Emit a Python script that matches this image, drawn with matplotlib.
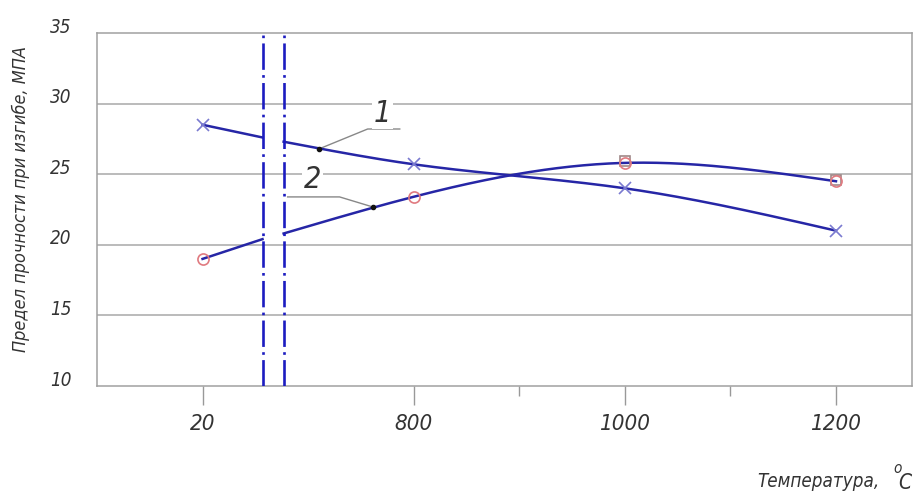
import matplotlib; matplotlib.use("Agg")
import matplotlib.pyplot as plt, numpy as np

# strength vs temperature, two materials; x axis is broken between 20 and 800
temps = ["20", "800", "1000", "1200"]
strength_1 = [28.5, 25.7, 24.0, 21.0]
strength_2 = [19.0, 23.4, 25.8, 24.5]
strength_sq = [25.9, 24.6]          # extra square marks at 1000, 1200 (curve 2)
break_1 = [27.6, 27.3]              # curve 1 value at both edges of the break
break_2 = [20.4, 20.8]              # curve 2 value at both edges of the break
y_ticks = [10, 15, 20, 25, 30, 35]

TXT = dict(family="DejaVu Sans", stretch="condensed", style="italic", color="#333")
BLUE = "#2626a6"
xb0, xb1 = 0.284, 0.384             # break position between tick 0 and tick 1

def nat_spline(xk, yk, n=300):
    xk = np.asarray(xk, float); yk = np.asarray(yk, float)
    k = len(xk); h = np.diff(xk)
    A = np.zeros((k, k)); r = np.zeros(k)
    A[0, 0] = A[-1, -1] = 1
    for i in range(1, k-1):
        A[i, i-1] = h[i-1]; A[i, i] = 2*(h[i-1]+h[i]); A[i, i+1] = h[i]
        r[i] = 6*((yk[i+1]-yk[i])/h[i] - (yk[i]-yk[i-1])/h[i-1])
    m = np.linalg.solve(A, r)
    xs = np.linspace(xk[0], xk[-1], n); ys = np.empty_like(xs)
    for j, x in enumerate(xs):
        i = min(np.searchsorted(xk, x, side="right")-1, k-2)
        t0 = xk[i+1]-x; t1 = x-xk[i]
        ys[j] = (m[i]*t0**3 + m[i+1]*t1**3)/(6*h[i]) + (yk[i]/h[i]-m[i]*h[i]/6)*t0 + (yk[i+1]/h[i]-m[i+1]*h[i]/6)*t1
    return xs, ys

x = np.arange(len(temps))
fig = plt.figure(figsize=(9.14, 4.96), dpi=100)
ax = fig.add_axes([0.1061, 0.2218, 0.8917, 0.7117])
ax.set_xlim(-0.5, 3.36); ax.set_ylim(10, 35)

for v in y_ticks[1:-1]:
    ax.axhline(v, color="#a8a8a8", linewidth=1.1, zorder=1)

for s, b in ((strength_1, break_1), (strength_2, break_2)):
    ax.plot([x[0], xb0], [s[0], b[0]], color=BLUE, linewidth=1.8, zorder=3)
    xs, ys = nat_spline([xb1] + list(x[1:]), [b[1]] + s[1:])
    ax.plot(xs, ys, color=BLUE, linewidth=1.8, zorder=3)

for xv in (xb0, xb1):
    ax.axvline(xv, color="#1c1cc0", linewidth=1.9, linestyle=(0, (10, 2, 1, 2)), zorder=4)

ax.plot(x, strength_1, "x", color="#7a7ad0", markersize=9, markeredgewidth=1.2, zorder=5)
ax.plot(x[2:], strength_sq, "s", color="#a08888", markersize=7, markerfacecolor="none", markeredgewidth=1.2, zorder=5)
ax.plot(x, strength_2, "o", color="#e07a80", markersize=8, markerfacecolor="none", markeredgewidth=1.2, zorder=6)

# callouts 1 and 2
ax.plot([0.550, 0.782, 0.934], [26.78, 28.2, 28.2], color="#888", linewidth=1.0, zorder=2)
ax.plot([0.806, 0.649, 0.403], [22.68, 23.39, 23.39], color="#888", linewidth=1.0, zorder=2)
ax.plot([0.550, 0.806], [26.78, 22.68], "o", color="#111", markersize=3, zorder=6)
ax.text(0.853, 29.33, "1", fontsize=22, ha="center", va="center",
        bbox=dict(facecolor="white", edgecolor="none", pad=1), zorder=2, **TXT)
ax.text(0.521, 24.6, "2", fontsize=22, ha="center", va="center",
        bbox=dict(facecolor="white", edgecolor="none", pad=1), zorder=2, **TXT)

ax.set_xticks(x); ax.set_xticklabels(temps)
ax.set_xticks([1.5, 2.5], minor=True)
ax.tick_params(axis="x", which="major", length=14, width=1, color="#999", pad=6, labelsize=16)
ax.tick_params(axis="x", which="minor", length=7, width=1, color="#999")
for lb in ax.get_xticklabels():
    lb.set_family("DejaVu Sans"); lb.set_stretch("condensed"); lb.set_style("italic"); lb.set_color("#333")
ax.set_yticks([])
for v in y_ticks:
    ax.text(-0.62, v + 0.42, str(v), fontsize=13.5, ha="right", va="center", **TXT)
for sp in ax.spines.values():
    sp.set_color("#a0a0a0"); sp.set_linewidth(1.1)

fig.text(0.023, 0.599, "Предел прочности при изгибе, МПА", rotation=90, fontsize=13,
         ha="center", va="center", **TXT)
fig.text(0.962, 0.018, "Температура,", fontsize=13.5, ha="right", va="baseline", **TXT)
fig.text(0.990, 0.014, "C", fontsize=15, ha="center", va="baseline", **TXT)
fig.text(0.982, 0.056, "o", fontsize=11, ha="center", va="center", **TXT)

fig.savefig("out.png", dpi=100)
